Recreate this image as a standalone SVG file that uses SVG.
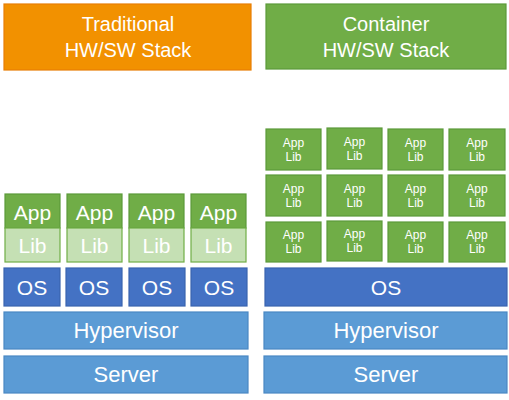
<svg xmlns="http://www.w3.org/2000/svg" width="509" height="400" viewBox="0 0 509 400">
<style>
text{font-family:"Liberation Sans",Arial,sans-serif;fill:#fff;text-anchor:middle}
.t{font-size:20px}
.app{fill:#70AD47;stroke:#5B9A3A;stroke-width:1.2}
.lib{fill:#C5E0B4;stroke:#70AD47;stroke-width:1.2}
.os{fill:#4472C4;stroke:#3A64B0;stroke-width:1.2}
.hw{fill:#5B9BD5;stroke:#4A88C4;stroke-width:1.2}
.big{font-size:21px}
.hv{font-size:22px}
.sm{font-size:12px}
</style>
<rect width="509" height="400" fill="#fff"/>
<g id="title-traditional">
<rect x="4" y="4" width="247" height="66" fill="#F29100" stroke="#E87E04" stroke-width="1.2"/>
<text class="t" x="128" y="31">Traditional</text>
<text class="t" x="128" y="57">HW/SW Stack</text>
</g>
<g id="title-container">
<rect x="266" y="4" width="240" height="65" fill="#70AD47" stroke="#5B9A3A" stroke-width="1.2"/>
<text class="t" x="386" y="31">Container</text>
<text class="t" x="386" y="57">HW/SW Stack</text>
</g>
<g id="trad-vm1">
<rect class="app" x="5" y="194" width="55" height="34"/><text class="big" x="32.5" y="220">App</text>
<rect class="lib" x="5" y="228" width="55" height="34"/><text class="big" x="32.5" y="253">Lib</text>
<rect class="os" x="4" y="268" width="56" height="38"/><text class="big" x="32" y="295">OS</text>
</g>
<g id="trad-vm2">
<rect class="app" x="67" y="194" width="55" height="34"/><text class="big" x="94.5" y="220">App</text>
<rect class="lib" x="67" y="228" width="55" height="34"/><text class="big" x="94.5" y="253">Lib</text>
<rect class="os" x="66" y="268" width="56" height="38"/><text class="big" x="94" y="295">OS</text>
</g>
<g id="trad-vm3">
<rect class="app" x="129" y="194" width="55" height="34"/><text class="big" x="156.5" y="220">App</text>
<rect class="lib" x="129" y="228" width="55" height="34"/><text class="big" x="156.5" y="253">Lib</text>
<rect class="os" x="129" y="268" width="56" height="38"/><text class="big" x="157" y="295">OS</text>
</g>
<g id="trad-vm4">
<rect class="app" x="191" y="194" width="55" height="34"/><text class="big" x="218.5" y="220">App</text>
<rect class="lib" x="191" y="228" width="55" height="34"/><text class="big" x="218.5" y="253">Lib</text>
<rect class="os" x="191" y="268" width="56" height="38"/><text class="big" x="219" y="295">OS</text>
</g>
<g id="trad-hypervisor">
<rect class="hw" x="4" y="312" width="244" height="37"/><text class="hv" x="126" y="338">Hypervisor</text>
</g>
<g id="trad-server">
<rect class="hw" x="4" y="356" width="244" height="37"/><text class="hv" x="126" y="382">Server</text>
</g>
<g id="containers">
<g id="c-1-1"><rect class="app" x="266" y="129" width="55" height="41"/><text class="sm" x="293.5" y="147">App</text><text class="sm" x="293.5" y="161">Lib</text></g>
<g id="c-1-2"><rect class="app" x="327" y="128" width="55" height="41"/><text class="sm" x="354.5" y="146">App</text><text class="sm" x="354.5" y="160">Lib</text></g>
<g id="c-1-3"><rect class="app" x="388" y="129" width="55" height="41"/><text class="sm" x="415.5" y="147">App</text><text class="sm" x="415.5" y="161">Lib</text></g>
<g id="c-1-4"><rect class="app" x="449" y="129" width="56" height="41"/><text class="sm" x="477" y="147">App</text><text class="sm" x="477" y="161">Lib</text></g>
<g id="c-2-1"><rect class="app" x="266" y="175" width="55" height="41"/><text class="sm" x="293.5" y="193">App</text><text class="sm" x="293.5" y="207">Lib</text></g>
<g id="c-2-2"><rect class="app" x="327" y="175" width="55" height="41"/><text class="sm" x="354.5" y="193">App</text><text class="sm" x="354.5" y="207">Lib</text></g>
<g id="c-2-3"><rect class="app" x="388" y="175" width="55" height="41"/><text class="sm" x="415.5" y="193">App</text><text class="sm" x="415.5" y="207">Lib</text></g>
<g id="c-2-4"><rect class="app" x="449" y="175" width="56" height="41"/><text class="sm" x="477" y="193">App</text><text class="sm" x="477" y="207">Lib</text></g>
<g id="c-3-1"><rect class="app" x="266" y="222" width="55" height="40"/><text class="sm" x="293.5" y="239">App</text><text class="sm" x="293.5" y="253">Lib</text></g>
<g id="c-3-2"><rect class="app" x="327" y="221" width="55" height="40"/><text class="sm" x="354.5" y="238">App</text><text class="sm" x="354.5" y="252">Lib</text></g>
<g id="c-3-3"><rect class="app" x="388" y="222" width="55" height="40"/><text class="sm" x="415.5" y="239">App</text><text class="sm" x="415.5" y="253">Lib</text></g>
<g id="c-3-4"><rect class="app" x="449" y="222" width="56" height="40"/><text class="sm" x="477" y="239">App</text><text class="sm" x="477" y="253">Lib</text></g>
</g>
<g id="cont-os">
<rect class="os" x="265" y="268" width="242" height="38"/><text class="big" x="386" y="295">OS</text>
</g>
<g id="cont-hypervisor">
<rect class="hw" x="264" y="312" width="243" height="37"/><text class="hv" x="386" y="338">Hypervisor</text>
</g>
<g id="cont-server">
<rect class="hw" x="264" y="356" width="243" height="37"/><text class="hv" x="386" y="382">Server</text>
</g>
<g id="connectors"/>
</svg>
